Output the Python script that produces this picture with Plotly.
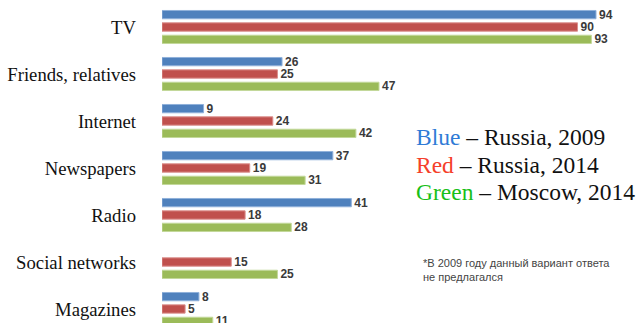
import plotly.graph_objects as go

categories = ["TV", "Friends, relatives", "Internet", "Newspapers", "Radio", "Social networks", "Magazines"]
russia_2009 = [94, 26, 9, 37, 41, None, 8]
russia_2014 = [90, 25, 24, 19, 18, 15, 5]
moscow_2014 = [93, 47, 42, 31, 28, 25, 11]

series = [
    ("Russia, 2009", russia_2009, "#4F81BD", "#8FB0DA"),
    ("Russia, 2014", russia_2014, "#C0504D", "#DA8E8C"),
    ("Moscow, 2014", moscow_2014, "#9BBB59", "#C3D89A"),
]

W, H = 641, 323
L = 162
fig = go.Figure()
for name, vals, col, edge in series:
    fig.add_trace(go.Bar(
        y=categories, x=vals, orientation="h", name=name,
        marker=dict(color=col, line=dict(color=edge, width=1)),
        text=[("" if v is None else str(v)) for v in vals],
        textposition="outside", constraintext="none", cliponaxis=False,
        textfont=dict(family="Liberation Sans", size=12, color="#3A3A3A", weight="bold"),
        showlegend=False,
    ))

pitch = 47.0
top_center = 27.0
y0 = -top_center / pitch
y1 = y0 + H / pitch
xmax = (W - L) / 4.617

fig.update_layout(
    width=W, height=H, margin=dict(l=L, r=0, t=0, b=0),
    paper_bgcolor="white", plot_bgcolor="white",
    barmode="group", bargap=0.21, bargroupgap=0.33,
    xaxis=dict(range=[0, xmax], visible=False, showgrid=False, zeroline=False),
    yaxis=dict(range=[y1, y0], showgrid=False, zeroline=False, showline=False,
               ticks="", ticklabelstandoff=25,
               tickfont=dict(family="Liberation Serif", size=18.7, color="#111111")),
    font=dict(family="Liberation Serif"),
)

def px_x(px):
    return (px - L) / (W - L)

def px_y(py):
    return 1 - py / H

legend_lines = [
    ("Blue", "#2F7BD6", "Russia, 2009", 137),
    ("Red", "#F5402A", "Russia, 2014", 165),
    ("Green", "#18C018", "Moscow, 2014", 192),
]
for word, col, label, ypix in legend_lines:
    fig.add_annotation(
        xref="paper", yref="paper", x=px_x(414), y=px_y(ypix),
        xanchor="left", yanchor="middle", showarrow=False,
        text=f"<span style='color:{col}'>{word}</span> – {label}",
        font=dict(family="Liberation Serif", size=23.5, color="#111111"),
    )

fig.add_annotation(
    xref="paper", yref="paper", x=px_x(421), y=px_y(270),
    xanchor="left", yanchor="middle", showarrow=False, align="left",
    text="*В 2009 году данный вариант ответа<br>не предлагался",
    font=dict(family="Liberation Sans", size=11, color="#444444"),
)

fig.write_html("out.html")
